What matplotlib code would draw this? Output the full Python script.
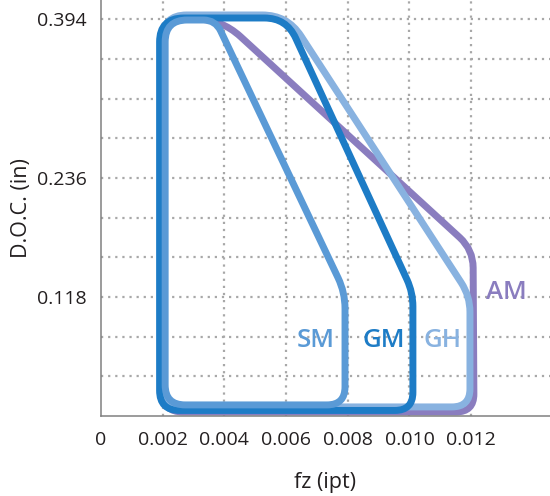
import numpy as np
import matplotlib
matplotlib.use('Agg')
import matplotlib.pyplot as plt
from matplotlib.path import Path
from matplotlib.patches import PathPatch

# grades d'outils : contour de la zone d'utilisation (fz, D.O.C.)
sm_fz = [0.00208, 0.00791, 0.00791, 0.00371, 0.00208]
sm_doc = [0.011, 0.011, 0.1226, 0.393, 0.393]

gm_fz = [0.0019, 0.01011, 0.01011, 0.00601, 0.0019]
gm_doc = [0.0055, 0.0055, 0.1226, 0.395, 0.395]

gh_fz = [0.002, 0.01196, 0.01196, 0.00604, 0.002]
gh_doc = [0.009, 0.009, 0.119, 0.398, 0.398]

am_fz = [0.002, 0.01209, 0.01206, 0.0039, 0.002]
am_doc = [0.004, 0.004, 0.165, 0.394, 0.394]

grades = ['SM', 'GM', 'GH', 'AM']
label_fz = [0.00695, 0.00915, 0.01108, 0.01315]
label_doc = [0.0745, 0.0745, 0.0745, 0.1225]

x_ticks = [0, 0.002, 0.004, 0.006, 0.008, 0.010, 0.012]
x_ticklabels = ['0', '0.002', '0.004', '0.006', '0.008', '0.010', '0.012']
y_ticks = [0.118, 0.236, 0.394]
y_ticklabels = ['0.118', '0.236', '0.394']
y_grid = [0.03937 * k for k in range(1, 11)]
x_grid = [0.002, 0.004, 0.006, 0.008, 0.010, 0.012]

couleurs = {'SM': '#5a9ad6', 'GM': '#1d7cc6', 'GH': '#88b2e0', 'AM': '#8a7dbf'}
rayons = {'SM': [20, 18, 16, 12, 22],
          'GM': [20, 18, 14, 22, 24],
          'GH': [20, 18, 16, 25, 24],
          'AM': [20, 18, 18, 26, 22]}

plt.rcParams['font.family'] = ['Open Sans', 'DejaVu Sans']


def contour_arrondi(ax, xs, ys, radii, **kw):
    # arrondir les coins en pixels puis revenir en coordonnees data
    pts = ax.transData.transform(np.column_stack([xs, ys]))
    n = len(pts)
    verts, codes = [], []
    for i in range(n):
        p0, p1, p2 = pts[i - 1], pts[i], pts[(i + 1) % n]
        d1 = (p0 - p1) / np.linalg.norm(p0 - p1)
        d2 = (p2 - p1) / np.linalg.norm(p2 - p1)
        a = p1 + d1 * radii[i]
        b = p1 + d2 * radii[i]
        verts.append(a)
        codes.append(Path.MOVETO if i == 0 else Path.LINETO)
        verts += [p1, b]
        codes += [Path.CURVE3, Path.CURVE3]
    verts.append(verts[0])
    codes.append(Path.CLOSEPOLY)
    verts = ax.transData.inverted().transform(np.array(verts))
    patch = PathPatch(Path(verts, codes), fill=False, **kw)
    ax.add_patch(patch)


fig = plt.figure(figsize=(5.5, 4.96), dpi=100)
ax = fig.add_axes([0.1836, 0.1613, 0.8164, 0.8387])
ax.set_xlim(0, 0.014554)
ax.set_ylim(0, 0.41286)

for y in y_grid:
    ax.axhline(y, color='#a8a8a8', lw=1.6, ls=(0, (1, 2.2)), zorder=0)
for x in x_grid:
    ax.axvline(x, color='#a8a8a8', lw=1.6, ls=(0, (1, 2.2)), zorder=0)

donnees = {'SM': (sm_fz, sm_doc), 'GM': (gm_fz, gm_doc),
           'GH': (gh_fz, gh_doc), 'AM': (am_fz, am_doc)}
ordre = {'AM': 1, 'GH': 2, 'GM': 3, 'SM': 4}
for g in grades:
    xs, ys = donnees[g]
    contour_arrondi(ax, xs, ys, rayons[g], edgecolor=couleurs[g], lw=5.0,
                    joinstyle='round', zorder=ordre[g])

for g, x, y in zip(grades, label_fz, label_doc):
    ax.text(x, y, g, color=couleurs[g], fontsize=18.5, fontweight='semibold',
            ha='center', va='center', zorder=5)

ax.set_xticks(x_ticks)
ax.set_xticklabels(x_ticklabels)
ax.set_yticks(y_ticks)
ax.set_yticklabels(y_ticklabels)
ax.tick_params(length=0, labelsize=14, colors='#231f20')
ax.tick_params(axis='x', pad=11)
ax.tick_params(axis='y', pad=10)

for s in ['top', 'right']:
    ax.spines[s].set_visible(False)
for s in ['left', 'bottom']:
    ax.spines[s].set_color('#808080')
    ax.spines[s].set_linewidth(1.1)

ax.set_xlabel('fz (ipt)', fontsize=15.5, color='#231f20', va='center')
ax.set_ylabel('D.O.C. (in)', fontsize=15.5, color='#231f20', va='center')
ax.xaxis.set_label_coords(0.5, -0.16)
ax.yaxis.set_label_coords(-0.178, 0.5)

fig.savefig('out.png', dpi=100)
